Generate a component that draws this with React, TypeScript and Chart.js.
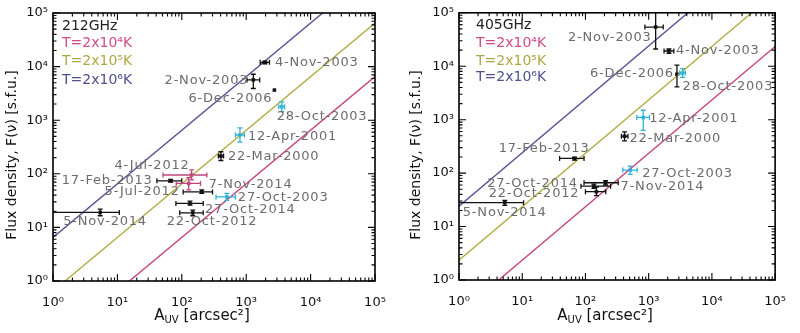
import React, { useEffect, useRef } from "react";
import { Chart, registerables } from "chart.js";
Chart.register(...registerables);

const FONT = "DejaVu Sans";
Chart.defaults.font.family = FONT;

const decadeTicks = [1, 10, 100, 1000, 10000, 100000];
const decadeLabels = ["10⁰", "10¹", "10²", "10³", "10⁴", "10⁵"];
const lineArea = [1, 100000];

// ---- 212 GHz ----
const names212 = ["4-Nov-2003", "2-Nov-2003", "6-Dec-2006", "28-Oct-2003", "12-Apr-2001", "22-Mar-2000", "4-Jul-2012", "17-Feb-2013", "7-Nov-2014", "5-Jul-2012", "27-Oct-2003", "27-Oct-2014", "22-Oct-2012", "5-Nov-2014"];
const area212 = [1950, 1290, 2740, 3560, 800, 405, 142, 67, 128, 204, 500, 134, 148, 5.4];
const areaLo212 = [1650, 1030, null, 3200, 680, 370, 51, 41, 82, 105, 340, 81, 93, 0.9];
const areaHi212 = [2300, 1620, null, 3950, 940, 445, 245, 100, 195, 300, 680, 215, 215, 10.7];
const flux212 = [12000, 5650, 3650, 1790, 530, 214, 95, 74, 66, 46, 37, 28, 18.7, 19];
const fluxLo212 = [11300, 3900, null, 1450, 390, 177, 77, 70, 50, 43, 32, 26, 16.5, 16.5];
const fluxHi212 = [12700, 7200, null, 2200, 720, 258, 118, 79, 85, 50, 43, 31, 21, 22];
const kind212 = ["k", "k", "k", "c", "c", "k", "m", "k", "m", "k", "c", "k", "k", "k"];
const t4Line212 = [0.065, 6500];
const t5Line212 = [0.65, 65000];
const t6Line212 = [6.5, 650000];

// ---- 405 GHz ----
const names405 = ["2-Nov-2003", "4-Nov-2003", "6-Dec-2006", "28-Oct-2003", "12-Apr-2001", "22-Mar-2000", "17-Feb-2013", "27-Oct-2003", "7-Nov-2014", "27-Oct-2014", "22-Oct-2012", "5-Nov-2014"];
const area405 = [1290, 2090, 2800, 3440, 820, 415, 67, 510, 208, 136, 149, 5.3];
const areaLo405 = [870, 1750, null, 3100, 650, 370, 39, 390, 95, 85, 100, 0.9];
const areaHi405 = [1700, 2500, null, 3800, 1030, 470, 95, 660, 330, 250, 210, 10.5];
const flux405 = [54000, 19300, 7070, 7500, 1100, 490, 188, 114, 66, 57, 45, 28];
const fluxLo405 = [21000, 17500, 4100, 6200, 630, 400, 175, 95, 60, 52, 38, 25];
const fluxHi405 = [110000, 21000, 10500, 9000, 1500, 590, 200, 135, 72, 62, 55, 31];
const kind405 = ["k", "k", "k", "c", "c", "k", "k", "c", "k", "k", "k", "k"];
const t4Line405 = [0.235, 23500];
const t5Line405 = [2.35, 235000];
const t6Line405 = [24, 2400000];

// label placement (pixel offsets from point, alignment)
const labelPos212: [number, number, CanvasTextAlign][] = [
  [10, 0, "left"], [-5, 1, "right"], [-2, 9, "right"], [-5, 10, "left"], [8, 2, "left"], [7, 1, "left"],
  [-2, -9, "right"], [-18, 0, "right"], [20, 1, "left"], [-22, 0, "right"], [11, 1, "left"], [15, 6, "left"],
  [-26, 9, "left"], [-37, 9, "left"],
];
const labelPos405: [number, number, CanvasTextAlign][] = [
  [-4, 11, "right"], [7, 0, "left"], [-3, -1, "right"], [0, 14, "left"], [6, 1, "left"], [5, 2, "left"],
  [15, -10, "right"], [12, 4, "left"], [15, 4, "left"], [-16, -3, "right"], [-17, 2, "right"], [-42, 10, "left"],
];

const COLORS: Record<string, string> = { k: "#111111", c: "#2db4d8", m: "#c2447f" };
const LINE_T4 = "#c8447f";
const LINE_T5 = "#b3ad48";
const LINE_T6 = "#55559a";
const LABEL_GRAY = "#6c6c6c";

type PanelDef = {
  freq: string;
  names: string[];
  area: number[];
  areaLo: (number | null)[];
  areaHi: (number | null)[];
  flux: number[];
  fluxLo: (number | null)[];
  fluxHi: (number | null)[];
  kind: string[];
  t4: number[];
  t5: number[];
  t6: number[];
  labelPos: [number, number, CanvasTextAlign][];
  yAxisWidth: number;
  xAxisHeight: number;
  padTop: number;
  padRight: number;
  legendDx: number;
  legendYs: number[];
  yTitleDx: number;
};

function makePlugin(p: PanelDef) {
  return {
    id: "panelDecor" + p.freq,
    afterDatasetsDraw(chart: any) {
      const { ctx, chartArea: ca, scales } = chart;
      const x = scales.x, y = scales.y;
      // error bars
      ctx.save();
      ctx.beginPath();
      ctx.rect(ca.left, ca.top, ca.right - ca.left, ca.bottom - ca.top);
      ctx.clip();
      const cap = 2.5;
      p.area.forEach((a, i) => {
        const px = x.getPixelForValue(a);
        const py = y.getPixelForValue(p.flux[i]);
        ctx.strokeStyle = COLORS[p.kind[i]];
        ctx.lineWidth = 1.3;
        ctx.beginPath();
        const lo = p.areaLo[i], hi = p.areaHi[i];
        if (lo != null && hi != null) {
          const x1 = x.getPixelForValue(lo), x2 = x.getPixelForValue(hi);
          ctx.moveTo(x1, py); ctx.lineTo(x2, py);
          ctx.moveTo(x1, py - cap); ctx.lineTo(x1, py + cap);
          ctx.moveTo(x2, py - cap); ctx.lineTo(x2, py + cap);
        }
        const flo = p.fluxLo[i], fhi = p.fluxHi[i];
        if (flo != null && fhi != null) {
          const y1 = y.getPixelForValue(flo), y2 = y.getPixelForValue(fhi);
          ctx.moveTo(px, y1); ctx.lineTo(px, y2);
          ctx.moveTo(px - cap, y1); ctx.lineTo(px + cap, y1);
          ctx.moveTo(px - cap, y2); ctx.lineTo(px + cap, y2);
        }
        ctx.stroke();
      });
      ctx.restore();

      // point labels
      ctx.save();
      ctx.font = `13px "${FONT}"`;
      (ctx as any).letterSpacing = "0.8px";
      ctx.fillStyle = LABEL_GRAY;
      ctx.textBaseline = "middle";
      p.names.forEach((n, i) => {
        const px = x.getPixelForValue(p.area[i]);
        const py = y.getPixelForValue(p.flux[i]);
        const [dx, dy, al] = p.labelPos[i];
        ctx.textAlign = al;
        ctx.fillText(n, px + dx, py + dy);
      });
      ctx.restore();

      // legend text
      ctx.save();
      ctx.font = `14px "${FONT}"`;
      ctx.textAlign = "left";
      ctx.textBaseline = "middle";
      const lx = ca.left + p.legendDx;
      const legendItems: [string, string][] = [
        [p.freq, "#222"],
        ["T=2x10⁴K", "#d04a8c"],
        ["T=2x10⁵K", "#b0a844"],
        ["T=2x10⁶K", "#50508f"],
      ];
      legendItems.forEach(([t, c], i) => {
        ctx.fillStyle = c;
        ctx.fillText(t, lx, p.legendYs[i]);
      });
      ctx.restore();

      // box and inward ticks
      ctx.save();
      ctx.strokeStyle = "#000";
      ctx.lineWidth = 1.6;
      ctx.strokeRect(ca.left, ca.top, ca.right - ca.left, ca.bottom - ca.top);
      ctx.lineWidth = 1.1;
      ctx.beginPath();
      const major = 7, minor = 3.5;
      for (let d = 0; d <= 5; d++) {
        for (let m = 1; m <= 9; m++) {
          const v = m * Math.pow(10, d);
          if (v > 100000) break;
          const len = m === 1 ? major : minor;
          const xp = x.getPixelForValue(v);
          ctx.moveTo(xp, ca.bottom); ctx.lineTo(xp, ca.bottom - len);
          ctx.moveTo(xp, ca.top); ctx.lineTo(xp, ca.top + len);
          const yp = y.getPixelForValue(v);
          ctx.moveTo(ca.left, yp); ctx.lineTo(ca.left + len, yp);
          ctx.moveTo(ca.right, yp); ctx.lineTo(ca.right - len, yp);
        }
      }
      ctx.stroke();
      ctx.restore();

      // axis titles
      ctx.save();
      ctx.fillStyle = "#111";
      ctx.textBaseline = "middle";
      ctx.translate(ca.left + p.yTitleDx, 155);
      ctx.rotate(-Math.PI / 2);
      ctx.font = `14px "${FONT}"`;
      ctx.textAlign = "center";
      ctx.fillText("Flux density, F(ν) [s.f.u.]", 0, 0);
      ctx.restore();

      ctx.save();
      ctx.fillStyle = "#111";
      ctx.textBaseline = "alphabetic";
      ctx.textAlign = "left";
      const big = `15px "${FONT}"`;
      const small = `10px "${FONT}"`;
      ctx.font = big;
      const wA = ctx.measureText("A").width;
      const wRest = ctx.measureText(" [arcsec²]").width;
      ctx.font = small;
      const wUV = ctx.measureText("UV").width;
      const total = wA + wUV + wRest;
      const cx = (ca.left + ca.right) / 2 - 12;
      let sx = cx - total / 2;
      const base = 320;
      ctx.font = big;
      ctx.fillText("A", sx, base);
      sx += wA;
      ctx.font = small;
      ctx.fillText("UV", sx, base + 3);
      sx += wUV;
      ctx.font = big;
      ctx.fillText(" [arcsec²]", sx, base);
      ctx.restore();
    },
  };
}

function Panel({ p }: { p: PanelDef }) {
  const ref = useRef<HTMLCanvasElement>(null);
  useEffect(() => {
    const pointColors = p.kind.map((k) => COLORS[k]);
    const mkLine = (vals: number[], color: string) => ({
      type: "scatter" as const,
      data: lineArea.map((a, i) => ({ x: a, y: vals[i] })),
      showLine: true,
      borderColor: color,
      borderWidth: 1.4,
      pointRadius: 0,
      fill: false,
    });
    const tickCfg = {
      autoSkip: false,
      maxRotation: 0,
      color: "#111",
      font: { size: 13, family: FONT },
      callback: (v: any) => {
        const idx = decadeTicks.indexOf(Number(v));
        return idx >= 0 ? decadeLabels[idx] : "";
      },
    };
    const chart = new Chart(ref.current!, {
      type: "scatter",
      data: {
        datasets: [
          mkLine(p.t6, LINE_T6),
          mkLine(p.t5, LINE_T5),
          mkLine(p.t4, LINE_T4),
          {
            type: "scatter",
            data: p.area.map((a, i) => ({ x: a, y: p.flux[i] })),
            pointStyle: "rect",
            pointRadius: 2.5,
            backgroundColor: pointColors,
            borderColor: pointColors,
            pointBackgroundColor: pointColors,
            pointBorderColor: pointColors,
            borderWidth: 0,
          } as any,
        ],
      },
      options: {
        animation: false,
        responsive: false,
        layout: { padding: { top: p.padTop, right: p.padRight, left: 0, bottom: 0 } },
        plugins: { legend: { display: false }, tooltip: { enabled: false } },
        scales: {
          x: {
            type: "logarithmic",
            min: 1,
            max: 100000,
            grid: { display: false, drawTicks: false },
            border: { display: false },
            ticks: { ...tickCfg, padding: 14 },
            afterBuildTicks: (s: any) => {
              s.ticks = decadeTicks.map((v) => ({ value: v, major: true }));
            },
            afterFit: (s: any) => {
              s.height = p.xAxisHeight;
            },
          },
          y: {
            type: "logarithmic",
            min: 1,
            max: 100000,
            grid: { display: false, drawTicks: false },
            border: { display: false },
            ticks: { ...tickCfg, padding: 5 },
            afterBuildTicks: (s: any) => {
              s.ticks = decadeTicks.map((v) => ({ value: v, major: true }));
            },
            afterFit: (s: any) => {
              s.width = p.yAxisWidth;
            },
          },
        },
      } as any,
      plugins: [makePlugin(p)],
    });
    return () => chart.destroy();
  }, []);
  return (
    <div style={{ width: 400, height: 333, position: "relative" }}>
      <canvas ref={ref} width={400} height={333} style={{ display: "block" }} />
    </div>
  );
}

const panel212: PanelDef = {
  freq: "212GHz",
  names: names212,
  area: area212,
  areaLo: areaLo212,
  areaHi: areaHi212,
  flux: flux212,
  fluxLo: fluxLo212,
  fluxHi: fluxHi212,
  kind: kind212,
  t4: t4Line212,
  t5: t5Line212,
  t6: t6Line212,
  labelPos: labelPos212,
  yAxisWidth: 53,
  xAxisHeight: 52,
  padTop: 13,
  padRight: 25,
  legendDx: 9,
  legendYs: [26, 43, 61, 80],
  yTitleDx: -41,
};

const panel405: PanelDef = {
  freq: "405GHz",
  names: names405,
  area: area405,
  areaLo: areaLo405,
  areaHi: areaHi405,
  flux: flux405,
  fluxLo: fluxLo405,
  fluxHi: fluxHi405,
  kind: kind405,
  t4: t4Line405,
  t5: t5Line405,
  t6: t6Line405,
  labelPos: labelPos405,
  yAxisWidth: 59,
  xAxisHeight: 53,
  padTop: 12,
  padRight: 19,
  legendDx: 17,
  legendYs: [25, 43, 61, 77],
  yTitleDx: -43,
};

export default function App() {
  return (
    <div style={{ position: "absolute", left: 0, top: 0, width: 800, height: 333, display: "flex", background: "#fff" }}>
      <Panel p={panel212} />
      <Panel p={panel405} />
    </div>
  );
}
